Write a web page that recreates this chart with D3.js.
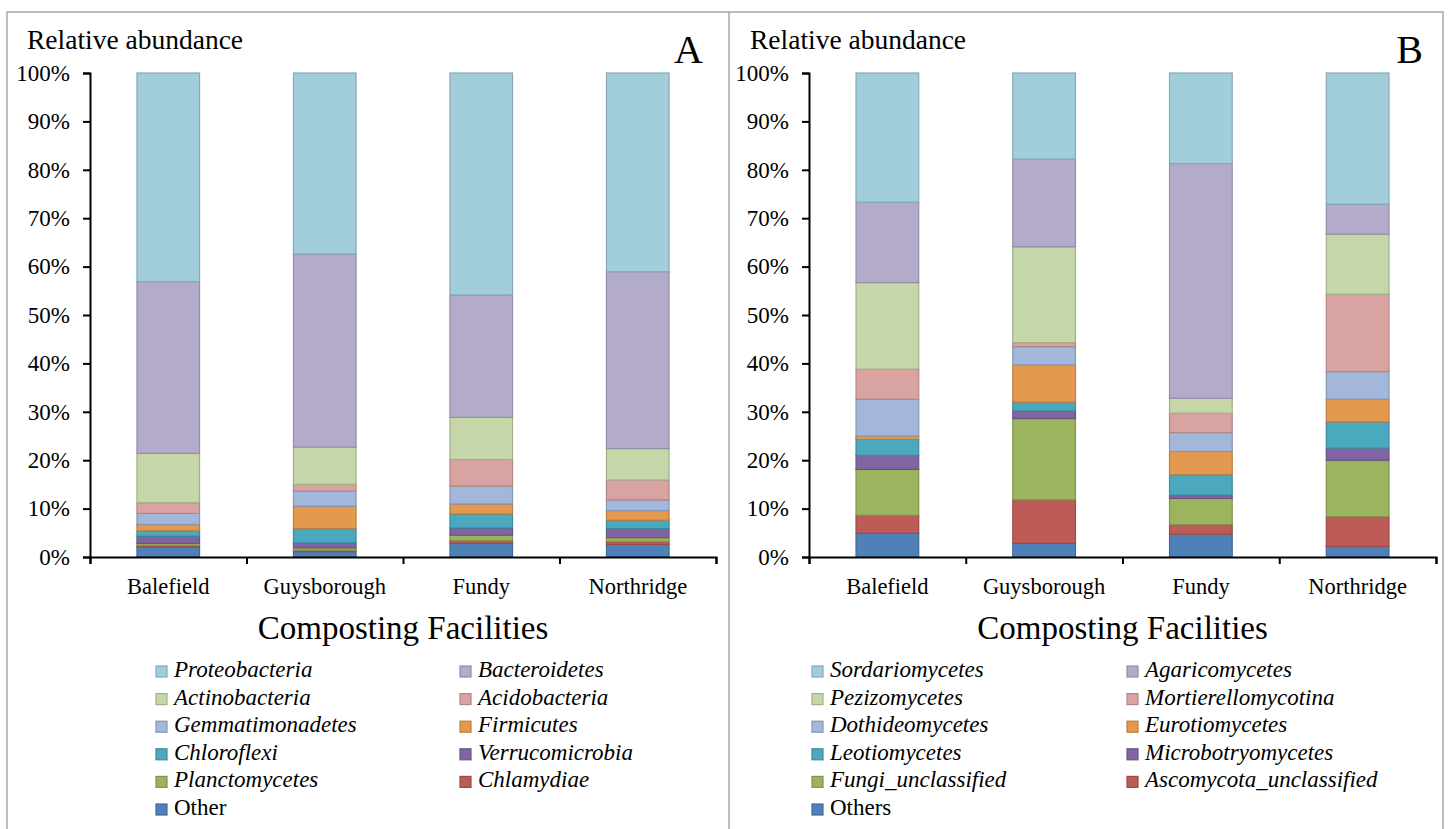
<!DOCTYPE html>
<html>
<head>
<meta charset="utf-8">
<script src="https://cdn.jsdelivr.net/npm/d3@7"></script>
<style>
  html, body { margin: 0; padding: 0; background: #fff; }
  svg { display: block; font-family: "Liberation Serif", "Times New Roman", serif; }
</style>
</head>
<body>
<svg id="chart" width="1448" height="829"></svg>
<script>
// Composting facilities (x categories, shared by both panels)
const facilities = ["Balefield", "Guysborough", "Fundy", "Northridge"];

// Y axis tick values (percent)
const yTicks = [0, 10, 20, 30, 40, 50, 60, 70, 80, 90, 100];

// Panel A: bacterial phyla, stacked bottom to top (percent per facility)
const bacteriaOrder = ["Other", "Chlamydiae", "Planctomycetes", "Verrucomicrobia", "Chloroflexi",
  "Firmicutes", "Gemmatimonadetes", "Acidobacteria", "Actinobacteria", "Bacteroidetes", "Proteobacteria"];
const other            = [2.1, 1.1, 2.8, 2.6];
const chlamydiae       = [0.3, 0.3, 0.6, 0.6];
const planctomycetes   = [0.4, 0.5, 1.1, 0.8];
const verrucomicrobia  = [1.5, 1.0, 1.5, 1.85];
const chloroflexi      = [1.1, 2.95, 2.9, 1.75];
const firmicutes       = [1.3, 4.65, 2.05, 2.0];
const gemmatimonadetes = [2.3, 3.1, 3.7, 2.2];
const acidobacteria    = [2.2, 1.4, 5.5, 4.1];
const actinobacteria   = [10.2, 7.7, 8.7, 6.5];
const bacteroidetes    = [35.5, 39.9, 25.3, 36.55];
const proteobacteria   = [43.1, 37.4, 45.85, 41.05];

// Panel B: fungal classes, stacked bottom to top (percent per facility)
const fungiOrder = ["Others", "Ascomycota_unclassified", "Fungi_unclassified", "Microbotryomycetes",
  "Leotiomycetes", "Eurotiomycetes", "Dothideomycetes", "Mortierellomycotina", "Pezizomycetes",
  "Agaricomycetes", "Sordariomycetes"];
const others              = [4.9, 2.8, 4.7, 2.2];
const ascomycotaUnclass   = [3.7, 9.0, 2.0, 6.1];
const fungiUnclass        = [9.5, 16.8, 5.4, 11.7];
const microbotryomycetes  = [2.9, 1.6, 0.7, 2.5];
const leotiomycetes       = [3.3, 1.8, 4.2, 5.4];
const eurotiomycetes      = [0.7, 7.7, 4.8, 4.7];
const dothideomycetes     = [7.6, 3.75, 3.9, 5.7];
const mortierellomycotina = [6.2, 0.85, 4.0, 16.0];
const pezizomycetes       = [17.9, 19.8, 3.1, 12.4];
const agaricomycetes      = [16.6, 18.1, 48.5, 6.2];
const sordariomycetes     = [26.7, 17.8, 18.7, 27.1];

// Shared palette, bottom to top of the stack
const palette = ["#4f81b9", "#bd5b56", "#9bb45d", "#8165a2", "#4aa8bf", "#e39a4e",
  "#a3b7da", "#d9a3a2", "#c5d6a8", "#b4abca", "#a2cedc"];

const bacteriaValues = [other, chlamydiae, planctomycetes, verrucomicrobia, chloroflexi,
  firmicutes, gemmatimonadetes, acidobacteria, actinobacteria, bacteroidetes, proteobacteria];
const fungiValues = [others, ascomycotaUnclass, fungiUnclass, microbotryomycetes, leotiomycetes,
  eurotiomycetes, dothideomycetes, mortierellomycotina, pezizomycetes, agaricomycetes, sordariomycetes];

function toRows(order, values) {
  return facilities.map((f, i) => {
    const row = { facility: f };
    order.forEach((k, j) => { row[k] = values[j][i]; });
    return row;
  });
}

const svg = d3.select("#chart");

// Panel frames
svg.append("path")
  .attr("d", "M7,829 V12 H1443 V829 M729,12 V829")
  .attr("fill", "none").attr("stroke", "#a6a6a6").attr("stroke-width", 1.5);

function drawPanel(cfg) {
  const { x0, x1, order, values, letter, labelX, legendX, legendX2 } = cfg;
  const yTop = 73, yBottom = 557;
  const g = svg.append("g");

  const y = d3.scaleLinear().domain([0, 100]).range([yBottom, yTop]);
  const x = d3.scaleBand().domain(facilities).range([x0, x1]).paddingInner(0.6).paddingOuter(0.3);
  const color = d3.scaleOrdinal().domain(order).range(palette);

  const stack = d3.stack().keys(order)(toRows(order, values));

  // Stacked bars
  g.append("g").selectAll("g").data(stack).join("g")
    .attr("fill", d => color(d.key))
    .attr("stroke", d => d3.color(color(d.key)).darker(0.55))
    .attr("stroke-width", 1.2)
    .selectAll("rect").data(d => d).join("rect")
      .attr("x", d => x(d.data.facility))
      .attr("width", x.bandwidth())
      .attr("y", d => y(d[1]))
      .attr("height", d => Math.max(0, y(d[0]) - y(d[1])));

  // Y axis
  const yAxis = g.append("g")
    .attr("transform", `translate(${x0},0)`)
    .call(d3.axisLeft(y).tickValues(yTicks).tickFormat(d => d + "%").tickSize(7).tickSizeOuter(7).tickPadding(13));
  yAxis.select(".domain").attr("stroke", "#000").attr("stroke-width", 2);
  yAxis.selectAll(".tick line").attr("stroke", "#000").attr("stroke-width", 2);
  yAxis.selectAll("text").attr("font-size", 23).attr("font-family", "Liberation Serif").attr("fill", "#000");

  // X axis: boundary ticks between facilities
  const xEdges = d3.scaleLinear().domain([0, facilities.length]).range([x0, x1]);
  const xAxis = g.append("g")
    .attr("transform", `translate(0,${yBottom})`)
    .call(d3.axisBottom(xEdges).tickValues(d3.range(facilities.length + 1)).tickFormat("").tickSize(7).tickSizeOuter(7));
  xAxis.select(".domain").attr("stroke", "#000").attr("stroke-width", 2);
  xAxis.selectAll(".tick line").attr("stroke", "#000").attr("stroke-width", 2);

  // Facility labels
  const xLab = g.append("g")
    .attr("transform", `translate(0,${yBottom})`)
    .call(d3.axisBottom(x).tickSize(0).tickPadding(21));
  xLab.select(".domain").remove();
  xLab.selectAll("text").attr("font-size", 22.5).attr("font-family", "Liberation Serif").attr("fill", "#000");

  // Titles
  g.append("text").attr("x", labelX).attr("y", 49).attr("font-size", 27.5).text("Relative abundance");
  g.append("text").attr("x", x1 - 13).attr("y", 63).attr("text-anchor", "end").attr("font-size", 40).text(letter);
  g.append("text").attr("x", (x0 + x1) / 2).attr("y", 639).attr("text-anchor", "middle")
    .attr("font-size", 33).text("Composting Facilities");

  // Legend: two columns, top of stack first
  const legendItems = order.slice().reverse();
  const leg = g.append("g");
  legendItems.forEach((k, i) => {
    const col = i % 2, row = Math.floor(i / 2);
    const lx = col === 0 ? legendX : legendX2;
    const ly = 677 + row * 27.6;
    const c = color(k);
    leg.append("rect").attr("x", lx).attr("y", ly - 11).attr("width", 11).attr("height", 11)
      .attr("fill", c).attr("stroke", d3.color(c).darker(0.55)).attr("stroke-width", 1.2);
    leg.append("text").attr("x", lx + 18).attr("y", ly).attr("font-size", 23)
      .attr("font-style", (k === "Other" || k === "Others") ? "normal" : "italic")
      .text(k);
  });
}

drawPanel({ x0: 90, x1: 716, order: bacteriaOrder, values: bacteriaValues, letter: "A",
  labelX: 27, legendX: 156, legendX2: 460 });
drawPanel({ x0: 809, x1: 1436, order: fungiOrder, values: fungiValues, letter: "B",
  labelX: 750, legendX: 812, legendX2: 1127 });
</script>
</body>
</html>
